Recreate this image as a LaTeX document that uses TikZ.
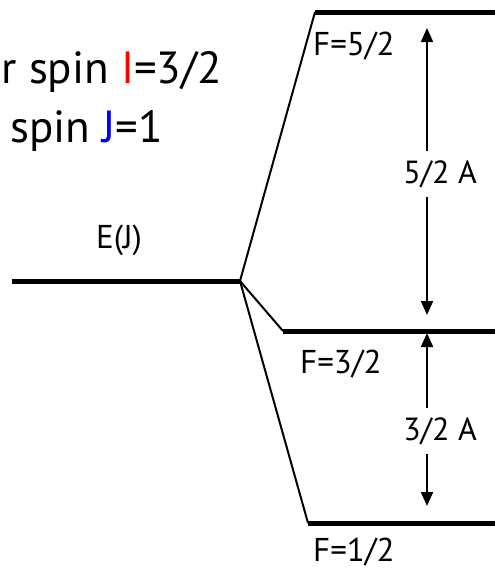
\documentclass[tikz,border=0pt]{standalone}
\usepackage{fontspec}
\setmainfont{PT Sans}
\usetikzlibrary{positioning,arrows.meta}

\begin{document}
\begin{tikzpicture}[
    x=1pt, y=-1pt,
    level/.style={line width=5pt},
    branch/.style={line width=2pt},
    gap/.style={line width=2pt, -{Triangle[length=14pt,width=12pt]}},
    flabel/.style={font=\fontsize{33}{38}\selectfont, inner sep=0pt},
    alabel/.style={font=\fontsize{32}{36}\selectfont, inner xsep=0pt, inner ysep=9pt, anchor=base},
    spin/.style={font=\fontsize{45}{54}\selectfont, inner sep=0pt, anchor=base east},
]
    \useasboundingbox (0,0) rectangle (495,570);
    \clip (0,0) rectangle (495,570);

    \node[spin] (nuc) at (222,83) {r spin \textcolor{red}{I}=3/2};
    \node[spin] (ele) at (163,142) {spin \textcolor{blue}{J}=1};

    \coordinate (ej0) at (12,281);
    \coordinate (split) at (240,281);
    \coordinate (f5) at (315,12);
    \coordinate (f3) at (283,331);
    \coordinate (f1) at (308,523);

    \draw[level] (ej0) -- (split);
    \draw[level] (f5) -- (f5 -| 495,0);
    \draw[level] (f3) -- (f3 -| 495,0);
    \draw[level] (f1) -- (f1 -| 495,0);
    \draw[branch] (split) -- (f5);
    \draw[branch] (split) -- (f3);
    \draw[branch] (split) -- (f1);

    \node[flabel, anchor=base] (ej) at (119,248) {E(J)};
    \node[flabel, anchor=base west] (l5) at (313,55) {F=5/2};
    \node[flabel, anchor=base west] (l3) at (300,373) {F=3/2};
    \node[flabel, anchor=base west] (l1) at (313,561) {F=1/2};

    \node[alabel] (a5) at (440,183) {5/2 A};
    \node[alabel] (a3) at (440,440) {3/2 A};
    \coordinate (t5) at (427,28);
    \coordinate (b5) at (427,315);
    \coordinate (t3) at (427,333);
    \coordinate (b3) at (427,506);
    \draw[gap] (a5.north -| t5) -- (t5);
    \draw[gap] (a5.south -| b5) -- (b5);
    \draw[gap] (a3.north -| t3) -- (t3);
    \draw[gap] (a3.south -| b3) -- (b3);
\end{tikzpicture}
\end{document}
